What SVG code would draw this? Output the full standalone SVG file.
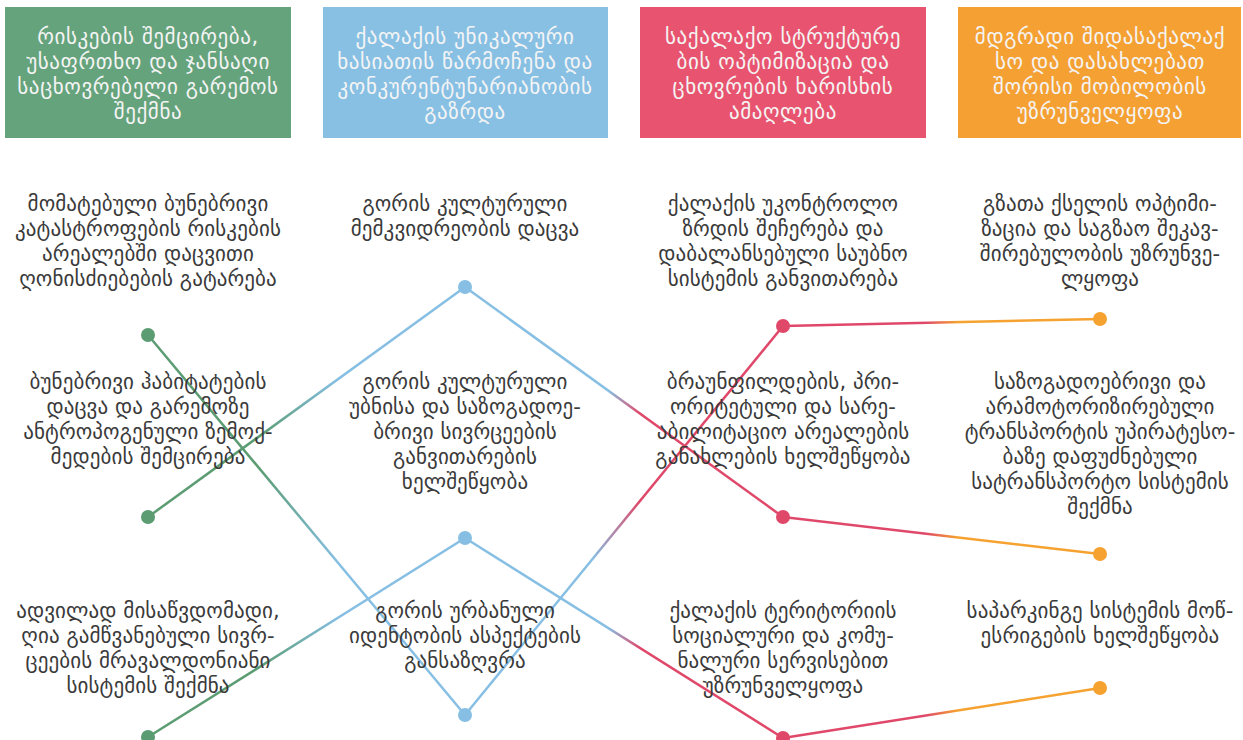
<svg xmlns="http://www.w3.org/2000/svg" width="1243" height="740" viewBox="0 0 1243 740">
<style>
.h{font-family:"DejaVu Sans",sans-serif;font-size:21px;letter-spacing:0.6px;fill:#f4f4f4;text-anchor:middle}
.t{font-family:"DejaVu Sans",sans-serif;font-size:21px;letter-spacing:0.1px;fill:#3a3a3a;text-anchor:middle}
.ln{stroke-width:2.5;fill:none}
.g{fill:#5b9c72}.b{fill:#86bfe3}.r{fill:#e0486a}.o{fill:#f5a230}
</style>
<defs>
<linearGradient id="gb1" gradientUnits="userSpaceOnUse" x1="148" y1="335" x2="465" y2="715"><stop offset="0.35" stop-color="#5b9c72"/><stop offset="0.6" stop-color="#86bfe3"/></linearGradient>
<linearGradient id="gb2" gradientUnits="userSpaceOnUse" x1="148" y1="517" x2="465" y2="287"><stop offset="0.35" stop-color="#5b9c72"/><stop offset="0.6" stop-color="#86bfe3"/></linearGradient>
<linearGradient id="gb3" gradientUnits="userSpaceOnUse" x1="148" y1="737" x2="465" y2="538"><stop offset="0.35" stop-color="#5b9c72"/><stop offset="0.6" stop-color="#86bfe3"/></linearGradient>
<linearGradient id="br1" gradientUnits="userSpaceOnUse" x1="465" y1="287" x2="783" y2="517"><stop offset="0.45" stop-color="#86bfe3"/><stop offset="0.55" stop-color="#e0486a"/></linearGradient>
<linearGradient id="br2" gradientUnits="userSpaceOnUse" x1="465" y1="538" x2="783" y2="738"><stop offset="0.45" stop-color="#86bfe3"/><stop offset="0.55" stop-color="#e0486a"/></linearGradient>
<linearGradient id="br3" gradientUnits="userSpaceOnUse" x1="465" y1="715" x2="783" y2="326"><stop offset="0.4" stop-color="#86bfe3"/><stop offset="0.55" stop-color="#e0486a"/></linearGradient>
<linearGradient id="ro1" gradientUnits="userSpaceOnUse" x1="783" y1="326" x2="1100" y2="319"><stop offset="0.45" stop-color="#e0486a"/><stop offset="0.55" stop-color="#f5a230"/></linearGradient>
<linearGradient id="ro2" gradientUnits="userSpaceOnUse" x1="783" y1="517" x2="1100" y2="554"><stop offset="0.45" stop-color="#e0486a"/><stop offset="0.55" stop-color="#f5a230"/></linearGradient>
<linearGradient id="ro3" gradientUnits="userSpaceOnUse" x1="783" y1="738" x2="1100" y2="688"><stop offset="0.45" stop-color="#e0486a"/><stop offset="0.55" stop-color="#f5a230"/></linearGradient>
</defs>
<rect width="1243" height="740" fill="#ffffff"/>

<g id="connectors">
<line class="ln" x1="148" y1="335" x2="465" y2="715" stroke="url(#gb1)"/>
<line class="ln" x1="148" y1="517" x2="465" y2="287" stroke="url(#gb2)"/>
<line class="ln" x1="148" y1="737" x2="465" y2="538" stroke="url(#gb3)"/>
<line class="ln" x1="465" y1="287" x2="783" y2="517" stroke="url(#br1)"/>
<line class="ln" x1="465" y1="538" x2="783" y2="738" stroke="url(#br2)"/>
<line class="ln" x1="465" y1="715" x2="783" y2="326" stroke="url(#br3)"/>
<line class="ln" x1="783" y1="326" x2="1100" y2="319" stroke="url(#ro1)"/>
<line class="ln" x1="783" y1="517" x2="1100" y2="554" stroke="url(#ro2)"/>
<line class="ln" x1="783" y1="738" x2="1100" y2="688" stroke="url(#ro3)"/>
</g>

<g id="header1"><rect x="5" y="7" width="286" height="131" fill="#65a37c"/>
<text class="h"><tspan x="148" y="44">რისკების შემცირება,</tspan><tspan x="148" y="69">უსაფრთხო და ჯანსაღი</tspan><tspan x="148" y="94">საცხოვრებელი გარემოს</tspan><tspan x="148" y="119">შექმნა</tspan></text></g>
<g id="header2"><rect x="323" y="7" width="285" height="131" fill="#88c0e4"/>
<text class="h"><tspan x="465" y="44">ქალაქის უნიკალური</tspan><tspan x="465" y="69">ხასიათის წარმოჩენა და</tspan><tspan x="465" y="94">კონკურენტუნარიანობის</tspan><tspan x="465" y="119">გაზრდა</tspan></text></g>
<g id="header3"><rect x="640" y="7" width="286" height="131" fill="#e8546f"/>
<text class="h"><tspan x="783" y="44">საქალაქო სტრუქტურე</tspan><tspan x="783" y="69">ბის ოპტიმიზაცია და</tspan><tspan x="783" y="94">ცხოვრების ხარისხის</tspan><tspan x="783" y="119">ამაღლება</tspan></text></g>
<g id="header4"><rect x="958" y="7" width="283" height="131" fill="#f4a033"/>
<text class="h"><tspan x="1100" y="44">მდგრადი შიდასაქალაქ</tspan><tspan x="1100" y="69">სო და დასახლებათ</tspan><tspan x="1100" y="94">შორისი მობილობის</tspan><tspan x="1100" y="119">უზრუნველყოფა</tspan></text></g>

<g id="n1a"><text class="t"><tspan x="148" y="211">მომატებული ბუნებრივი</tspan><tspan x="148" y="236">კატასტროფების რისკების</tspan><tspan x="148" y="261">არეალებში დაცვითი</tspan><tspan x="148" y="286">ღონისძიებების გატარება</tspan></text><circle class="g" cx="148" cy="335" r="7"/></g>
<g id="n1b"><text class="t"><tspan x="148" y="389">ბუნებრივი ჰაბიტატების</tspan><tspan x="148" y="414">დაცვა და გარემოზე</tspan><tspan x="148" y="439">ანტროპოგენული ზემოქ-</tspan><tspan x="148" y="464">მედების შემცირება</tspan></text><circle class="g" cx="148" cy="517" r="7"/></g>
<g id="n1c"><text class="t"><tspan x="148" y="618">ადვილად მისაწვდომადი,</tspan><tspan x="148" y="643">ღია გამწვანებული სივრ-</tspan><tspan x="148" y="668">ცეების მრავალდონიანი</tspan><tspan x="148" y="693">სისტემის შექმნა</tspan></text><circle class="g" cx="148" cy="737" r="7"/></g>

<g id="n2a"><text class="t"><tspan x="465" y="211">გორის კულტურული</tspan><tspan x="465" y="236">მემკვიდრეობის დაცვა</tspan></text><circle class="b" cx="465" cy="287" r="7"/></g>
<g id="n2b"><text class="t"><tspan x="465" y="389">გორის კულტურული</tspan><tspan x="465" y="414">უბნისა და საზოგადოე-</tspan><tspan x="465" y="439">ბრივი სივრცეების</tspan><tspan x="465" y="464">განვითარების</tspan><tspan x="465" y="489">ხელშეწყობა</tspan></text><circle class="b" cx="465" cy="538" r="7"/></g>
<g id="n2c"><text class="t"><tspan x="465" y="618">გორის ურბანული</tspan><tspan x="465" y="643">იდენტობის ასპექტების</tspan><tspan x="465" y="668">განსაზღვრა</tspan></text><circle class="b" cx="465" cy="715" r="7"/></g>

<g id="n3a"><text class="t"><tspan x="783" y="211">ქალაქის უკონტროლო</tspan><tspan x="783" y="236">ზრდის შეჩერება და</tspan><tspan x="783" y="261">დაბალანსებული საუბნო</tspan><tspan x="783" y="286">სისტემის განვითარება</tspan></text><circle class="r" cx="783" cy="326" r="7"/></g>
<g id="n3b"><text class="t"><tspan x="783" y="389">ბრაუნფილდების, პრი-</tspan><tspan x="783" y="414">ორიტეტული  და სარე-</tspan><tspan x="783" y="439">აბილიტაციო არეალების</tspan><tspan x="783" y="464">განახლების ხელშეწყობა</tspan></text><circle class="r" cx="783" cy="517" r="7"/></g>
<g id="n3c"><text class="t"><tspan x="783" y="618">ქალაქის ტერიტორიის</tspan><tspan x="783" y="643">სოციალური და კომუ-</tspan><tspan x="783" y="668">ნალური სერვისებით</tspan><tspan x="783" y="693">უზრუნველყოფა</tspan></text><circle class="r" cx="783" cy="738" r="7"/></g>

<g id="n4a"><text class="t"><tspan x="1100" y="211">გზათა ქსელის ოპტიმი-</tspan><tspan x="1100" y="236">ზაცია და საგზაო შეკავ-</tspan><tspan x="1100" y="261">შირებულობის უზრუნვე-</tspan><tspan x="1100" y="286">ლყოფა</tspan></text><circle class="o" cx="1100" cy="319" r="7"/></g>
<g id="n4b"><text class="t"><tspan x="1100" y="389">საზოგადოებრივი და</tspan><tspan x="1100" y="414">არამოტორიზირებული</tspan><tspan x="1100" y="439">ტრანსპორტის უპირატესო-</tspan><tspan x="1100" y="464">ბაზე დაფუძნებული</tspan><tspan x="1100" y="489">სატრანსპორტო სისტემის</tspan><tspan x="1100" y="514">შექმნა</tspan></text><circle class="o" cx="1100" cy="554" r="7"/></g>
<g id="n4c"><text class="t"><tspan x="1100" y="618">საპარკინგე სისტემის მოწ-</tspan><tspan x="1100" y="643">ესრიგების ხელშეწყობა</tspan></text><circle class="o" cx="1100" cy="688" r="7"/></g>
</svg>
